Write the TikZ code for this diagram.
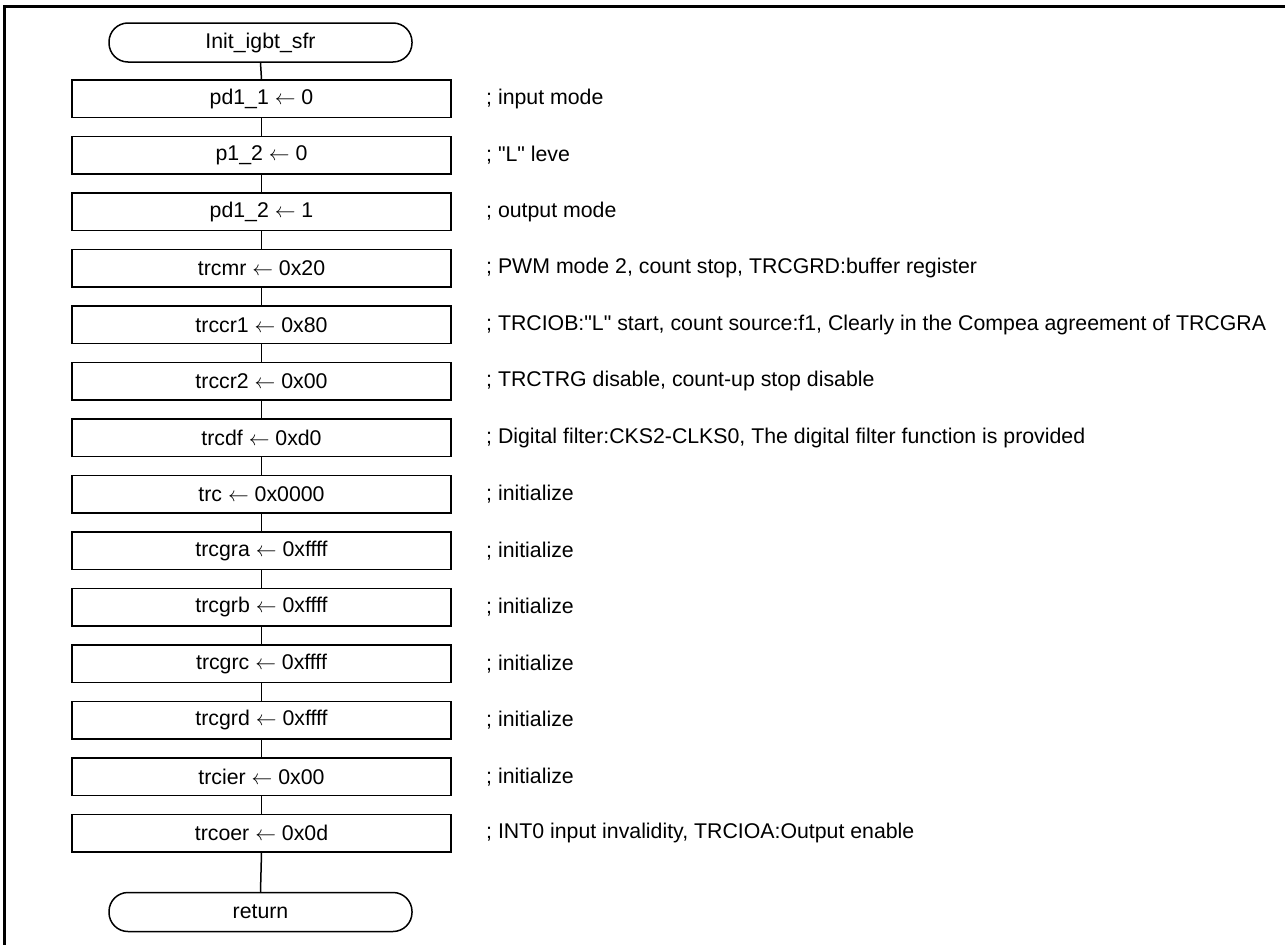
\documentclass[tikz,border=0pt]{standalone}
\usepackage{fontspec}
\setmainfont{Liberation Sans}[Ligatures=TeXOff]
\newcommand{\asg}{\ensuremath{\leftarrow}}
\begin{document}
\begin{tikzpicture}[x=1pt,y=-1pt,
  every node/.style={font=\fontsize{21.3}{25}\selectfont},
  procbox/.style={draw,line width=1.5pt,rectangle,minimum width=379pt,minimum height=37.5pt,inner sep=0pt},
  termbox/.style={draw,line width=1.5pt,rectangle,rounded corners=19pt,minimum width=303pt,minimum height=39pt,inner sep=0pt},
  note/.style={anchor=west,inner sep=0pt},
  flow/.style={line width=1.5pt}]
\useasboundingbox (0,0) rectangle (1285,945);
% frame
\draw[line width=3pt] (4.5,945) -- (4.5,6) -- (1285,6);
% terminals
\node[termbox] (start) at (260.5,42.5) {Init\_igbt\_sfr};
\node[termbox] (ret) at (260.5,912) {return};
% process steps with their comments
\foreach \k/\stmt/\cmt in {
  0/{pd1\_1 \asg{} 0}/{; input mode},
  1/{p1\_2 \asg{} 0}/{; "L" leve},
  2/{pd1\_2 \asg{} 1}/{; output mode},
  3/{trcmr \asg{} 0x20}/{; PWM mode 2, count stop, TRCGRD:buffer register},
  4/{trccr1 \asg{} 0x80}/{; TRCIOB:"L" start, count source:f1, Clearly in the Compea agreement of TRCGRA},
  5/{trccr2 \asg{} 0x00}/{; TRCTRG disable, count-up stop disable},
  6/{trcdf \asg{} 0xd0}/{; Digital filter:CKS2-CLKS0, The digital filter function is provided},
  7/{trc \asg{} 0x0000}/{; initialize},
  8/{trcgra \asg{} 0xffff}/{; initialize},
  9/{trcgrb \asg{} 0xffff}/{; initialize},
  10/{trcgrc \asg{} 0xffff}/{; initialize},
  11/{trcgrd \asg{} 0xffff}/{; initialize},
  12/{trcier \asg{} 0x00}/{; initialize},
  13/{trcoer \asg{} 0x0d}/{; INT0 input invalidity, TRCIOA:Output enable}}{
  \node[procbox] (b\k) at (261.5,98.75+56.5*\k) {\stmt};
  \node[note] (c\k) at (486,98.75+56.5*\k) {\cmt};
}
% connectors
\draw[flow] (start.south) -- (b0.north);
\foreach \k [evaluate=\k as \n using int(\k+1)] in {0,...,12}{
  \draw[flow] (b\k.south) -- (b\n.north);
}
\draw[flow] (b13.south) -- (ret.north);
\end{tikzpicture}
\end{document}
